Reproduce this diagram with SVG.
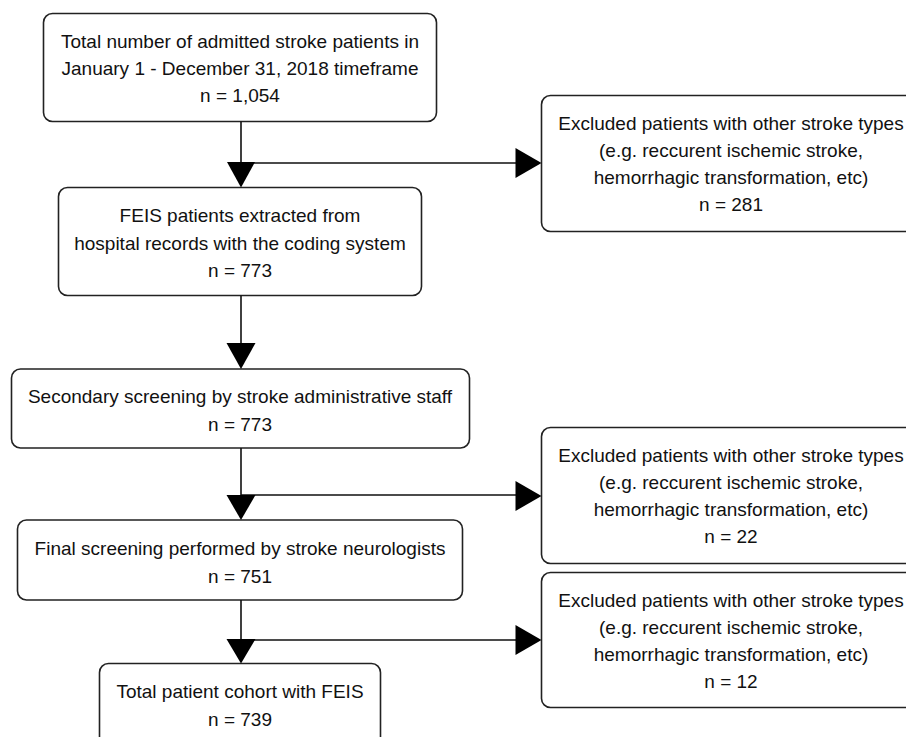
<svg xmlns="http://www.w3.org/2000/svg" width="906" height="737" viewBox="0 0 906 737">
<defs>
<style>
.box{fill:#fff;stroke:#222;stroke-width:1.6}
.t{font-family:"Liberation Sans",Arial,sans-serif;font-size:19px;fill:#111;text-anchor:middle}
.ln{fill:none;stroke:#111;stroke-width:1.6}
.ah{fill:#000}
</style>
</defs>
<rect width="906" height="737" fill="#fff"/>
<g id="n1">
<rect class="box" x="43.5" y="13.5" width="393" height="108" rx="9"/>
<text class="t" x="240" y="48">Total number of admitted stroke patients in</text>
<text class="t" x="240" y="75">January 1 - December 31, 2018 timeframe</text>
<text class="t" x="240" y="102">n = 1,054</text>
</g>
<g id="n2">
<rect class="box" x="58.5" y="187.5" width="363" height="108" rx="9"/>
<text class="t" x="240" y="222">FEIS patients extracted from</text>
<text class="t" x="240" y="250">hospital records with the coding system</text>
<text class="t" x="240" y="277">n = 773</text>
</g>
<g id="n3">
<rect class="box" x="11.5" y="369" width="458" height="79" rx="9"/>
<text class="t" x="240" y="403">Secondary screening by stroke administrative staff</text>
<text class="t" x="240" y="431">n = 773</text>
</g>
<g id="n4">
<rect class="box" x="17.5" y="520" width="445" height="80" rx="9"/>
<text class="t" x="240" y="555">Final screening performed by stroke neurologists</text>
<text class="t" x="240" y="583">n = 751</text>
</g>
<g id="n5">
<rect class="box" x="99.5" y="663.5" width="281" height="95" rx="9"/>
<text class="t" x="240" y="698">Total patient cohort with FEIS</text>
<text class="t" x="240" y="726">n = 739</text>
</g>
<g id="x1">
<rect class="box" x="541.5" y="95.5" width="380" height="136" rx="9"/>
<text class="t" x="731" y="130">Excluded patients with other stroke types</text>
<text class="t" x="731" y="157">(e.g. reccurent ischemic stroke,</text>
<text class="t" x="731" y="184">hemorrhagic transformation, etc)</text>
<text class="t" x="731" y="211">n = 281</text>
</g>
<g id="x2">
<rect class="box" x="541.5" y="427.5" width="380" height="136" rx="9"/>
<text class="t" x="731" y="462">Excluded patients with other stroke types</text>
<text class="t" x="731" y="489">(e.g. reccurent ischemic stroke,</text>
<text class="t" x="731" y="516">hemorrhagic transformation, etc)</text>
<text class="t" x="731" y="543">n = 22</text>
</g>
<g id="x3">
<rect class="box" x="541.5" y="572.5" width="380" height="135" rx="9"/>
<text class="t" x="731" y="607">Excluded patients with other stroke types</text>
<text class="t" x="731" y="634">(e.g. reccurent ischemic stroke,</text>
<text class="t" x="731" y="661">hemorrhagic transformation, etc)</text>
<text class="t" x="731" y="688">n = 12</text>
</g>
<g id="connectors">
<path class="ln" d="M241 121.5 V163 M241 163 H517"/>
<path class="ah" d="M227 162 H255 L241 187.5 Z"/>
<path class="ah" d="M515.5 148 L541.5 163 L515.5 178 Z"/>
<path class="ln" d="M241 295.5 V344"/>
<path class="ah" d="M226.5 343 H255.5 L241 369 Z"/>
<path class="ln" d="M241 448 V495 M241 495 H517"/>
<path class="ah" d="M226.5 495 H255.5 L241 520 Z"/>
<path class="ah" d="M515.5 481 L541.5 496 L515.5 511 Z"/>
<path class="ln" d="M241 600 V640 M241 640 H517"/>
<path class="ah" d="M226.5 639 H255.5 L241 663.5 Z"/>
<path class="ah" d="M515.5 625 L541.5 640 L515.5 655 Z"/>
</g>
</svg>
